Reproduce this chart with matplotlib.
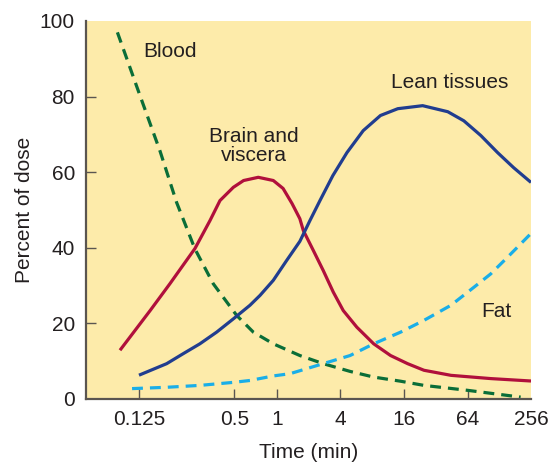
import matplotlib
matplotlib.use('Agg')
import matplotlib.pyplot as plt
import numpy as np

plt.rcParams['font.family'] = ['Liberation Sans', 'DejaVu Sans']

# data: time in minutes, percent of dose
blood_t = [0.0913, 0.125, 0.17, 0.216, 0.282, 0.368, 0.52, 0.682, 0.946, 1.66, 2.77,
           4.97, 8.27, 14.8, 24.6, 63.6, 204]
blood_v = [97, 81, 65.5, 52.0, 39.7, 30.5, 22.1, 17.7, 14.6, 11.5, 9.35,
           7.3, 5.8, 4.7, 3.6, 2.3, 0.5]

brain_t = [0.0948, 0.147, 0.196, 0.282, 0.351, 0.406, 0.493, 0.582, 0.74, 0.946, 1.15,
           1.40, 1.66, 1.79, 2.23, 2.77, 3.45, 4.29, 5.75, 8.27, 11.9, 17.2, 24.6,
           44.4, 106, 256]
brain_v = [12.9, 23.4, 30.5, 39.8, 47.2, 52.5, 56.0, 57.8, 58.65, 57.8, 55.7,
           51.7, 47.7, 44.6, 39.3, 34.0, 28.3, 23.4, 19.0, 14.6, 11.5, 9.35, 7.6,
           6.26, 5.4, 4.76]

lean_t = [0.125, 0.187, 0.238, 0.303, 0.387, 0.493, 0.646, 0.761, 0.946, 1.24, 1.66,
          2.07, 2.58, 3.42, 4.65, 6.6, 9.57, 13.9, 23.9, 41.4, 58.8, 85.3, 123, 175, 256]
lean_v = [6.3, 9.35, 12.0, 14.6, 17.7, 21.2, 24.8, 27.4, 31.4, 36.6, 41.7,
          47.2, 52.5, 59.1, 65.2, 71.0, 75.0, 76.8, 77.6, 76.0, 73.6, 69.7, 65.2, 61.2, 57.3]

fat_t = [0.113, 0.187, 0.303, 0.493, 0.646, 0.946, 1.34, 2.77, 4.97, 8.27, 14.8, 24.6,
         44.4, 73.6, 106, 153, 254]
fat_v = [2.75, 3.1, 3.6, 4.4, 4.9, 6.1, 6.7, 9.35, 11.5, 14.6, 17.7, 20.8,
         24.8, 29.6, 33.1, 37.5, 43.7]

xticks = [0.125, 0.5, 1, 4, 16, 64, 256]
xtick_labels = ['0.125', '0.5', '1', '4', '16', '64', '256']
yticks = [0, 20, 40, 60, 80, 100]

# the printed time axis is not evenly spaced; map log2(time) onto it piecewise
axis_log2 = [-6, -3, -1, 0, 2, 4, 6, 8, 10]
axis_pos = [-4.0, 139.0, 234.3, 276.7, 340.0, 404.3, 467.7, 531.0, 594.5]


def forward(t):
    t = np.clip(np.asarray(t, dtype=float), 1e-6, None)
    return np.interp(np.log2(t), axis_log2, axis_pos)


def inverse(p):
    return 2.0 ** np.interp(np.asarray(p, dtype=float), axis_pos, axis_log2)


bg = '#FDEBAA'
red = '#B0103C'
navy = '#213D8F'
green = '#0A6E38'
cyan = '#1AAEE8'
txt = '#231F20'
spine = '#5A5550'
fs = 15

fig = plt.figure(figsize=(5.57, 4.63), dpi=100)
ax = fig.add_axes([86 / 557, 64 / 463, 445 / 557, 378 / 463])
ax.set_xscale('function', functions=(forward, inverse))
ax.set_facecolor(bg)

lw = 2.3
ax.plot(blood_t, blood_v, color=green, lw=lw, linestyle=(0, (3.4, 2.2)))
ax.plot(brain_t, brain_v, color=red, lw=lw, solid_capstyle='butt', solid_joinstyle='round')
ax.plot(lean_t, lean_v, color=navy, lw=lw, solid_capstyle='butt', solid_joinstyle='round')
ax.plot(fat_t, fat_v, color=cyan, lw=lw, linestyle=(0, (3.4, 2.2)))

ax.set_xlim(inverse(86.0), 256)
ax.set_ylim(0, 100)

ax.set_xticks(xticks)
ax.set_xticklabels(xtick_labels)
ax.minorticks_off()
ax.set_yticks(yticks)

for s in ['top', 'right']:
    ax.spines[s].set_visible(False)
for s in ['left', 'bottom']:
    ax.spines[s].set_color(spine)
    ax.spines[s].set_linewidth(1.6)

ax.tick_params(direction='in', length=7, width=1.0, color=spine,
               labelsize=fs, labelcolor=txt, pad=8)
ax.xaxis.get_major_ticks()[-1].tick1line.set_visible(False)
ax.yaxis.get_major_ticks()[-1].tick1line.set_visible(False)
ax.yaxis.get_major_ticks()[0].tick1line.set_visible(False)

ax.set_xlabel('Time (min)', fontsize=fs, color=txt, labelpad=10)
ax.set_ylabel('Percent of dose', fontsize=fs, color=txt, labelpad=4)

ax.text(0.133, 91.9, 'Blood', fontsize=fs, color=txt, ha='left', va='center')
ax.text(0.69, 67.0, 'Brain and\nviscera', fontsize=fs, color=txt,
        ha='center', va='center', linespacing=1.0)
ax.text(43.3, 83.7, 'Lean tissues', fontsize=fs, color=txt, ha='center', va='center')
ax.text(121, 23.1, 'Fat', fontsize=fs, color=txt, ha='center', va='center')

fig.savefig('out.png', dpi=100)
